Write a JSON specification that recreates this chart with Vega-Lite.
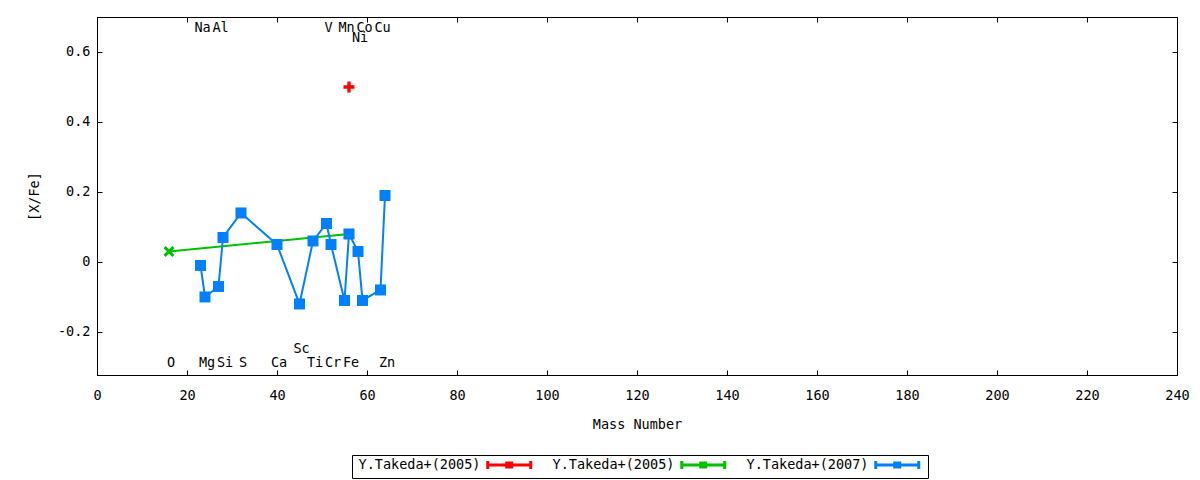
{
  "$schema": "https://vega.github.io/schema/vega-lite/v6.json",
  "autosize": "none",
  "padding": {"left": 97, "top": 17, "right": 23, "bottom": 105},
  "width": 1080,
  "height": 358,
  "background": "white",
  "config": {
    "view": {"stroke": "black", "strokeWidth": 1},
    "font": "DejaVu Sans Mono",
    "axis": {
      "labelFont": "DejaVu Sans Mono",
      "labelFontSize": 13.5,
      "labelColor": "black",
      "titleFont": "DejaVu Sans Mono",
      "titleFontSize": 13.5,
      "titleFontWeight": "normal",
      "titleColor": "black",
      "domainColor": "black",
      "tickColor": "black",
      "grid": false
    }
  },
  "datasets": {
    "abund": [
      {"set": "r2005", "el": "Fe", "mass": 56, "xfe": 0.5},
      {"set": "g2005", "el": "O", "mass": 16, "xfe": 0.03},
      {"set": "g2005", "el": "Fe", "mass": 56, "xfe": 0.08},
      {"set": "b2007", "el": "Na", "mass": 23, "xfe": -0.01},
      {"set": "b2007", "el": "Mg", "mass": 24, "xfe": -0.10},
      {"set": "b2007", "el": "Al", "mass": 27, "xfe": -0.07},
      {"set": "b2007", "el": "Si", "mass": 28, "xfe": 0.07},
      {"set": "b2007", "el": "S", "mass": 32, "xfe": 0.14},
      {"set": "b2007", "el": "Ca", "mass": 40, "xfe": 0.05},
      {"set": "b2007", "el": "Sc", "mass": 45, "xfe": -0.12},
      {"set": "b2007", "el": "Ti", "mass": 48, "xfe": 0.06},
      {"set": "b2007", "el": "V", "mass": 51, "xfe": 0.11},
      {"set": "b2007", "el": "Cr", "mass": 52, "xfe": 0.05},
      {"set": "b2007", "el": "Mn", "mass": 55, "xfe": -0.11},
      {"set": "b2007", "el": "Fe", "mass": 56, "xfe": 0.08},
      {"set": "b2007", "el": "Ni", "mass": 58, "xfe": 0.03},
      {"set": "b2007", "el": "Co", "mass": 59, "xfe": -0.11},
      {"set": "b2007", "el": "Cu", "mass": 63, "xfe": -0.08},
      {"set": "b2007", "el": "Zn", "mass": 64, "xfe": 0.19}
    ],
    "labels": [
      {"el": "O", "mass": 16, "ypos": -0.29},
      {"el": "Mg", "mass": 24, "ypos": -0.29},
      {"el": "Si", "mass": 28, "ypos": -0.29},
      {"el": "S", "mass": 32, "ypos": -0.29},
      {"el": "Ca", "mass": 40, "ypos": -0.29},
      {"el": "Sc", "mass": 45, "ypos": -0.25},
      {"el": "Ti", "mass": 48, "ypos": -0.29},
      {"el": "Cr", "mass": 52, "ypos": -0.29},
      {"el": "Fe", "mass": 56, "ypos": -0.29},
      {"el": "Zn", "mass": 64, "ypos": -0.29},
      {"el": "Na", "mass": 23, "ypos": 0.668},
      {"el": "Al", "mass": 27, "ypos": 0.668},
      {"el": "V", "mass": 51, "ypos": 0.668},
      {"el": "Mn", "mass": 55, "ypos": 0.668},
      {"el": "Co", "mass": 59, "ypos": 0.668},
      {"el": "Cu", "mass": 63, "ypos": 0.668},
      {"el": "Ni", "mass": 58, "ypos": 0.64}
    ]
  },
  "resolve": {"axis": {"x": "independent", "y": "independent"}},
  "layer": [
    {
      "data": {"name": "abund"},
      "mark": {"type": "line", "strokeWidth": 2, "clip": true},
      "encoding": {
        "x": {
          "field": "mass",
          "type": "quantitative",
          "scale": {"domain": [0, 240], "nice": false, "zero": false},
          "axis": {
            "orient": "bottom",
            "title": "Mass Number",
            "titlePadding": 16,
            "values": [0, 20, 40, 60, 80, 100, 120, 140, 160, 180, 200, 220, 240],
            "tickSize": -5,
            "labelPadding": 18,
            "labelFlush": false
          }
        },
        "y": {
          "field": "xfe",
          "type": "quantitative",
          "scale": {"domain": [-0.323, 0.7], "nice": false, "zero": false},
          "axis": {
            "orient": "left",
            "title": "[X/Fe]",
            "titlePadding": 16,
            "values": [-0.2, 0, 0.2, 0.4, 0.6],
            "labelExpr": "datum.value == 0 ? '0' : replace(datum.label, '\u2212', '-')",
            "tickSize": -5,
            "labelPadding": 12
          }
        },
        "color": {
          "field": "set",
          "type": "nominal",
          "scale": {"domain": ["r2005", "g2005", "b2007"], "range": ["#ff0000", "#00c000", "#0080ff"]},
          "legend": {
            "orient": "none",
            "legendX": 255,
            "legendY": 438,
            "direction": "horizontal",
            "title": null,
            "labelExpr": "datum.value == 'b2007' ? 'Y.Takeda+(2007)' : 'Y.Takeda+(2005)'",
            "labelFont": "DejaVu Sans Mono",
            "labelFontSize": 13.5,
            "labelColor": "black",
            "symbolType": "M25.2,0H33.8M25.2,-0.8V0.8M33.8,-0.8V0.8M28.7,-0.4H30.3M28.7,0H30.3M28.7,0.4H30.3",
            "symbolSize": 100,
            "symbolStrokeWidth": 3,
            "symbolFillColor": "transparent",
            "labelOffset": -10,
            "columnPadding": 12,
            "strokeColor": "black",
            "padding": 3
          }
        }
      }
    },
    {
      "data": {"name": "abund"},
      "transform": [{"filter": "datum.set == 'r2005'"}],
      "mark": {"type": "point", "filled": true, "opacity": 1, "size": 121, "shape": "M-1,-0.3H-0.3V-1H0.3V-0.3H1V0.3H0.3V1H-0.3V0.3H-1Z"},
      "encoding": {
        "x": {"field": "mass", "type": "quantitative", "axis": null},
        "y": {"field": "xfe", "type": "quantitative", "axis": null},
        "color": {"field": "set", "type": "nominal", "legend": null}
      }
    },
    {
      "data": {"name": "abund"},
      "transform": [{"filter": "datum.set == 'g2005'"}],
      "mark": {"type": "point", "filled": true, "opacity": 1, "size": 121, "shape": "M-1,-0.6L-0.6,-1L0,-0.4L0.6,-1L1,-0.6L0.4,0L1,0.6L0.6,1L0,0.4L-0.6,1L-1,0.6L-0.4,0Z"},
      "encoding": {
        "x": {"field": "mass", "type": "quantitative", "axis": null},
        "y": {"field": "xfe", "type": "quantitative", "axis": null},
        "color": {"field": "set", "type": "nominal", "legend": null}
      }
    },
    {
      "data": {"name": "abund"},
      "transform": [{"filter": "datum.set == 'b2007'"}],
      "mark": {"type": "point", "filled": true, "opacity": 1, "size": 121, "shape": "square"},
      "encoding": {
        "x": {"field": "mass", "type": "quantitative", "axis": null},
        "y": {"field": "xfe", "type": "quantitative", "axis": null},
        "color": {"field": "set", "type": "nominal", "legend": null}
      }
    },
    {
      "data": {"name": "labels"},
      "mark": {"type": "text", "font": "DejaVu Sans Mono", "fontSize": 13.5, "color": "black", "dx": 2, "baseline": "middle"},
      "encoding": {
        "x": {
          "field": "mass",
          "type": "quantitative",
          "axis": {"orient": "top", "labels": false, "title": null, "tickSize": -5, "values": [0, 20, 40, 60, 80, 100, 120, 140, 160, 180, 200, 220, 240]}
        },
        "y": {
          "field": "ypos",
          "type": "quantitative",
          "axis": {"orient": "right", "labels": false, "title": null, "tickSize": -5, "values": [-0.2, 0, 0.2, 0.4, 0.6]}
        },
        "text": {"field": "el"}
      }
    }
  ]
}
